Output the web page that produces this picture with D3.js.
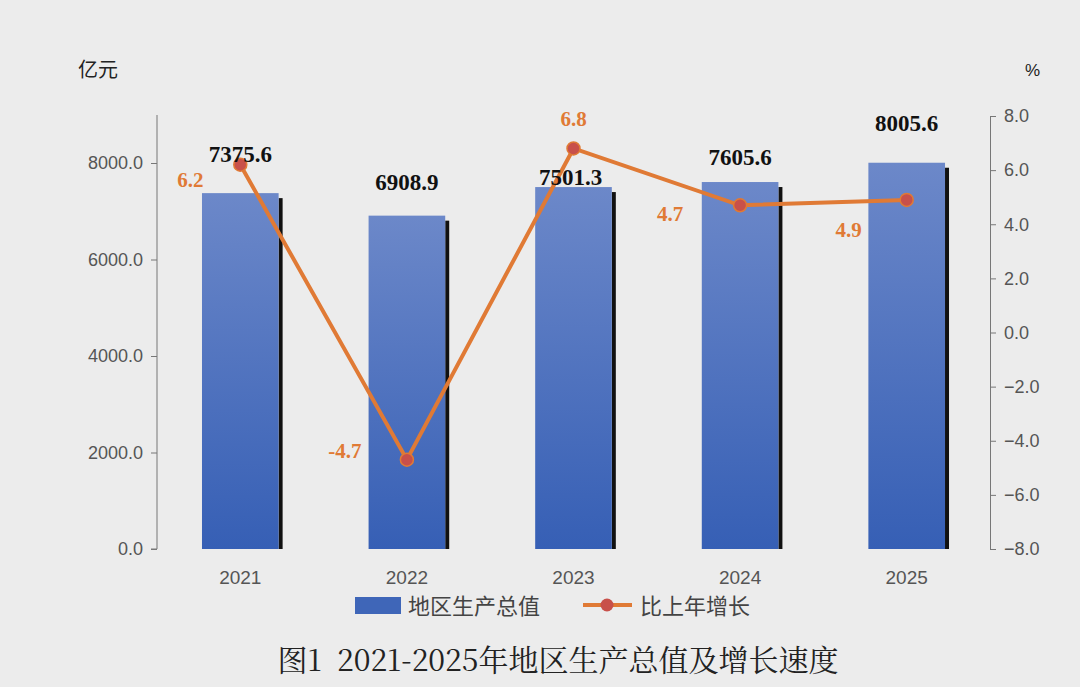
<!DOCTYPE html>
<html><head><meta charset="utf-8">
<script src="https://cdn.jsdelivr.net/npm/d3@7"></script>
<style>body{margin:0;background:#ececec;}svg{display:block;}</style>
</head><body><svg id="c"></svg>
<script>
const data = [
  { year: '2021', gdp: 7375.6, growth: 6.2 },
  { year: '2022', gdp: 6908.9, growth: -4.7 },
  { year: '2023', gdp: 7501.3, growth: 6.8 },
  { year: '2024', gdp: 7605.6, growth: 4.7 },
  { year: '2025', gdp: 8005.6, growth: 4.9 }
];
const width = 1080, height = 687;
const svg = d3.select('#c').attr('width', width).attr('height', height);
svg.append('rect').attr('width', width).attr('height', height).attr('fill', '#ececec');

const left = 157, right = 990;
const x = d3.scaleBand().domain(data.map(d => d.year)).range([left, right]).paddingInner(0.54).paddingOuter(0.27);
const yL = d3.scaleLinear().domain([0, 8000]).range([549, 163]);
const yR = d3.scaleLinear().domain([-8, 8]).range([549, 116]);
const font = '"Liberation Sans", Arial, sans-serif';
const serif = '"Liberation Serif", "Times New Roman", serif';

// gradient
const grad = svg.append('defs').append('linearGradient').attr('id', 'bg')
  .attr('x1', 0).attr('x2', 0).attr('y1', 0).attr('y2', 1);
grad.append('stop').attr('offset', '0%').attr('stop-color', '#6c88c9');
grad.append('stop').attr('offset', '100%').attr('stop-color', '#365fb5');

// axes
const axL = svg.append('g').attr('transform', `translate(${left},0)`)
  .call(d3.axisLeft(yL).tickValues([0, 2000, 4000, 6000, 8000]).tickFormat(d3.format('.1f')).tickSize(6).tickPadding(8));
axL.select('.domain').attr('d', `M-6,549H0V115`);
const axR = svg.append('g').attr('transform', `translate(${right},0)`)
  .call(d3.axisRight(yR).tickValues(d3.range(-8, 8.1, 2)).tickFormat(d3.format('.1f')).tickSize(6).tickPadding(8));
[axL, axR].forEach(a => {
  a.selectAll('path,line').attr('stroke', '#777');
  a.selectAll('text').attr('font-family', font).attr('font-size', 18).attr('fill', '#555');
});

// bars
const bars = svg.append('g').selectAll('g').data(data).enter().append('g');
bars.append('rect')
  .attr('x', d => x(d.year) + x.bandwidth())
  .attr('y', d => yL(d.gdp) + 5)
  .attr('width', 4)
  .attr('height', d => 549 - yL(d.gdp) - 5)
  .attr('fill', '#111');
bars.append('rect')
  .attr('x', d => x(d.year))
  .attr('y', d => yL(d.gdp))
  .attr('width', x.bandwidth())
  .attr('height', d => 549 - yL(d.gdp))
  .attr('fill', 'url(#bg)');

// x labels
svg.append('g').selectAll('text').data(data).enter().append('text')
  .attr('x', d => x(d.year) + x.bandwidth() / 2).attr('y', 584)
  .attr('text-anchor', 'middle').attr('font-family', font).attr('font-size', 19).attr('fill', '#555')
  .text(d => d.year);

// line
const cx = d => x(d.year) + x.bandwidth() / 2;
svg.append('path').datum(data)
  .attr('d', d3.line().x(cx).y(d => yR(d.growth)))
  .attr('fill', 'none').attr('stroke', '#e07a35').attr('stroke-width', 4);
svg.append('g').selectAll('circle').data(data).enter().append('circle')
  .attr('cx', cx).attr('cy', d => yR(d.growth)).attr('r', 6.5)
  .attr('fill', '#c8504a').attr('stroke', '#e07a35').attr('stroke-width', 1.5);

// value labels
const gdpOff = { '2021': [0, -31], '2022': [0, -26], '2023': [-3, -2], '2024': [0, -17], '2025': [0, -32] };
svg.append('g').selectAll('text').data(data).enter().append('text')
  .attr('x', d => cx(d) + gdpOff[d.year][0]).attr('y', d => yL(d.gdp) + gdpOff[d.year][1])
  .attr('text-anchor', 'middle').attr('font-family', serif).attr('font-weight', 'bold')
  .attr('font-size', 23).attr('fill', '#111').text(d => d.gdp.toFixed(1));

const grOff = { '2021': [-50, 22], '2022': [-62, -2], '2023': [0, -38 + 16], '2024': [-70, 16], '2025': [-58, 37] };
svg.append('g').selectAll('text').data(data).enter().append('text')
  .attr('x', d => cx(d) + grOff[d.year][0]).attr('y', d => yR(d.growth) + grOff[d.year][1])
  .attr('text-anchor', 'middle').attr('font-family', serif).attr('font-weight', 'bold')
  .attr('font-size', 21).attr('fill', '#e07a35').text(d => d.growth.toFixed(1));

// units
svg.append('text').attr('x', 78).attr('y', 77).attr('font-family', '"Noto Sans CJK SC"').attr('font-size', 20).attr('fill', '#222').text('亿元');
svg.append('text').attr('x', 1025).attr('y', 76).attr('font-family', font).attr('font-size', 17).attr('fill', '#222').text('%');

// legend
const lg = svg.append('g');
lg.append('rect').attr('x', 355).attr('y', 597).attr('width', 46).attr('height', 17).attr('fill', '#3f66b8');
lg.append('text').attr('x', 408).attr('y', 614).attr('font-family', '"Noto Sans CJK SC"').attr('font-size', 22).attr('fill', '#444').text('地区生产总值');
lg.append('line').attr('x1', 583).attr('x2', 632).attr('y1', 605).attr('y2', 605).attr('stroke', '#e07a35').attr('stroke-width', 4);
lg.append('circle').attr('cx', 607).attr('cy', 605).attr('r', 6.5).attr('fill', '#c8504a');
lg.append('text').attr('x', 640).attr('y', 614).attr('font-family', '"Noto Sans CJK SC"').attr('font-size', 22).attr('fill', '#444').text('比上年增长');

// title
svg.append('text').attr('x', 558).attr('y', 671).attr('text-anchor', 'middle')
  .attr('font-family', '"Noto Serif CJK SC", "Noto Sans CJK SC"').attr('font-size', 30).attr('fill', '#222')
  .attr('xml:space', 'preserve')
  .text('图1  2021-2025年地区生产总值及增长速度');
</script></body></html>
